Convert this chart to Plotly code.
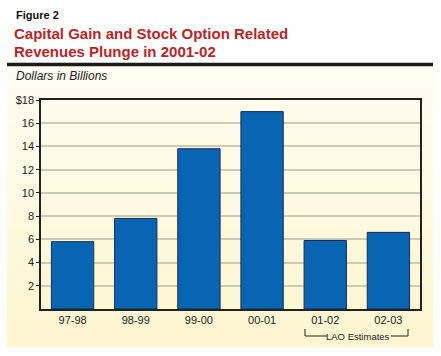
import plotly.graph_objects as go

categories = ["97-98", "98-99", "99-00", "00-01", "01-02", "02-03"]
values = [5.8, 7.8, 13.8, 17.0, 5.9, 6.6]
tick_vals = [2, 4, 6, 8, 10, 12, 14, 16, 18]
tick_text = ["2", "4", "6", "8", "10", "12", "14", "16", "$18"]

W, H = 441, 356
L, R, T, B = 41, 21, 100, 47

fig = go.Figure()
fig.add_trace(go.Bar(
    x=categories, y=values,
    marker=dict(color="#0865B4", line=dict(color="#1B2A4A", width=1)),
    width=0.67,
))

def fy(y):
    return (H - B - y) / (H - T - B)

def fx(x):
    return (x - L) / (W - L - R)

shapes = []
# cream panel with stepped vertical gradient
top_c = (255, 253, 242)
bot_c = (254, 246, 208)
n = 24
y_top, y_bot = 65, 347
for i in range(n):
    t = i / (n - 1)
    c = tuple(round(top_c[k] + (bot_c[k] - top_c[k]) * t) for k in range(3))
    ya = y_top + (y_bot - y_top) * i / n
    yb = y_top + (y_bot - y_top) * (i + 1) / n
    shapes.append(dict(type="rect", xref="paper", yref="paper", layer="below",
                       x0=fx(7), x1=fx(433), y0=fy(yb + 0.5), y1=fy(ya),
                       fillcolor="rgb(%d,%d,%d)" % c, line=dict(width=0)))
# thick black rule
shapes.append(dict(type="line", xref="paper", yref="paper",
                   x0=fx(7), x1=fx(433), y0=fy(64.5), y1=fy(64.5),
                   line=dict(color="#1a1a1a", width=3.5)))
# LAO bracket
shapes.append(dict(type="path", xref="paper", yref="paper",
                   path=f"M {fx(305)},{fy(329)} L {fx(305)},{fy(336)} L {fx(327)},{fy(336)}",
                   line=dict(color="#222", width=1)))
shapes.append(dict(type="path", xref="paper", yref="paper",
                   path=f"M {fx(391)},{fy(336)} L {fx(408)},{fy(336)} L {fx(408)},{fy(329)}",
                   line=dict(color="#222", width=1)))

fnt = "Liberation Sans, Arial"
annotations = [
    dict(text="<b>Figure 2</b>", x=fx(14), y=fy(15), xref="paper", yref="paper",
         xanchor="left", yanchor="middle", showarrow=False,
         font=dict(family=fnt, size=11, color="#111")),
    dict(text="<b>Capital Gain and Stock Option Related</b>", x=fx(12), y=fy(34),
         xref="paper", yref="paper", xanchor="left", yanchor="middle", showarrow=False,
         font=dict(family=fnt, size=15, color="#B3262A")),
    dict(text="<b>Revenues Plunge in 2001-02</b>", x=fx(12), y=fy(52),
         xref="paper", yref="paper", xanchor="left", yanchor="middle", showarrow=False,
         font=dict(family=fnt, size=15, color="#B3262A")),
    dict(text="<i>Dollars in Billions</i>", x=fx(14), y=fy(76),
         xref="paper", yref="paper", xanchor="left", yanchor="middle", showarrow=False,
         font=dict(family=fnt, size=12, color="#222")),
    dict(text="LAO Estimates", x=fx(358), y=fy(336),
         xref="paper", yref="paper", xanchor="center", yanchor="middle", showarrow=False,
         font=dict(family=fnt, size=9.5, color="#222")),
]

fig.update_layout(
    width=W, height=H,
    margin=dict(l=L, r=R, t=T, b=B, autoexpand=False),
    paper_bgcolor="white",
    plot_bgcolor="rgba(0,0,0,0)",
    showlegend=False,
    bargap=0.33,
    shapes=shapes,
    annotations=annotations,
    font=dict(family=fnt, size=11, color="#222"),
)
fig.update_xaxes(
    type="category", automargin=False,
    showline=True, linecolor="#222", linewidth=1.5, mirror=True,
    ticks="", tickfont=dict(size=11), showgrid=False,
)
fig.update_yaxes(
    range=[0, 18], tickvals=tick_vals, ticktext=tick_text, automargin=False,
    showline=True, linecolor="#222", linewidth=1.5, mirror=True,
    ticks="outside", ticklen=3, tickcolor="#222",
    showgrid=True, gridcolor="#CFCAB4", gridwidth=1.5,
    tickfont=dict(size=11), zeroline=False,
)

fig.write_html("out.html", config={"displayModeBar": False},
               post_script="document.body.style.margin='0';document.body.style.overflow='hidden';")
